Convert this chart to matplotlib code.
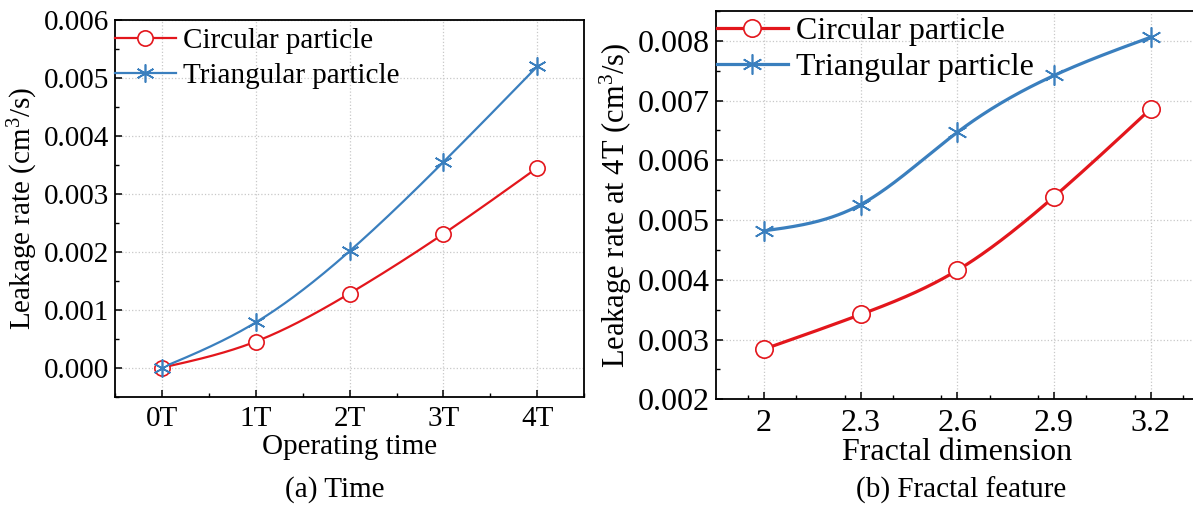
import numpy as np
import matplotlib
matplotlib.use("Agg")
import matplotlib.pyplot as plt
from matplotlib.ticker import MultipleLocator, FixedLocator, FormatStrFormatter

plt.rcParams['font.family'] = ['Liberation Serif', 'DejaVu Serif']
plt.rcParams['mathtext.fontset'] = 'custom'
plt.rcParams['mathtext.rm'] = 'Liberation Serif'
plt.rcParams['mathtext.it'] = 'Liberation Serif:italic'

# --- datos (a) ---
time_labels = ['0T', '1T', '2T', '3T', '4T']
time_x = [0, 1, 2, 3, 4]
time_circ = [0.0, 0.00045, 0.00128, 0.00231, 0.00345]
time_tri = [0.0, 0.00078, 0.00201, 0.00355, 0.00520]

# --- datos (b) ---
fractal_x = [2.0, 2.3, 2.6, 2.9, 3.2]
fractal_labels = ['2', '2.3', '2.6', '2.9', '3.2']
fractal_circ = [0.00284, 0.00342, 0.00416, 0.00539, 0.00686]
fractal_tri = [0.00482, 0.00526, 0.00647, 0.00742, 0.00806]

RED = '#e3161c'
BLUE = '#3a7fbe'


def spline(x, y, n=200):
    """Spline cubica natural solo para dibujar la curva suave entre puntos."""
    x = np.asarray(x, float)
    y = np.asarray(y, float)
    m = len(x)
    h = np.diff(x)
    A = np.zeros((m, m))
    b = np.zeros(m)
    A[0, 0] = A[-1, -1] = 1
    for i in range(1, m - 1):
        A[i, i - 1] = h[i - 1]
        A[i, i] = 2 * (h[i - 1] + h[i])
        A[i, i + 1] = h[i]
        b[i] = 6 * ((y[i + 1] - y[i]) / h[i] - (y[i] - y[i - 1]) / h[i - 1])
    M = np.linalg.solve(A, b)
    xs = np.linspace(x[0], x[-1], n)
    idx = np.clip(np.searchsorted(x, xs) - 1, 0, m - 2)
    x0, x1 = x[idx], x[idx + 1]
    hh = x1 - x0
    ys = (M[idx] * (x1 - xs) ** 3 / (6 * hh) + M[idx + 1] * (xs - x0) ** 3 / (6 * hh)
          + (y[idx] / hh - M[idx] * hh / 6) * (x1 - xs)
          + (y[idx + 1] / hh - M[idx + 1] * hh / 6) * (xs - x0))
    return xs, ys


def draw_series(ax, x, y, color, marker, lw, ms, label):
    xs, ys = spline(x, y)
    ax.plot(xs, ys, color=color, lw=lw, zorder=3)
    mk = 'o' if marker == 'o' else (6, 2, 0)
    size = ms if marker == 'o' else ms + 2
    ax.plot(x, y, marker=mk, ls='none', ms=size, mfc='white', mec=color, mew=1.2, zorder=4)
    # handle para la leyenda
    ax.plot([], [], color=color, lw=lw, marker=mk, ms=size, mfc='white', mec=color,
            mew=1.2, label=label)


def style_axes(ax, fs):
    for s in ax.spines.values():
        s.set_linewidth(1.3)
    ax.tick_params(which='both', direction='in', top=False, right=False, labelsize=fs)
    ax.tick_params(which='major', length=5, width=1.1)
    ax.tick_params(which='minor', length=3, width=1.0)
    ax.tick_params(axis='y', pad=4)
    ax.tick_params(axis='x', pad=7)
    ax.grid(True, which='major', color='#c8c8c8', ls=':', lw=0.9, zorder=0)


fig = plt.figure(figsize=(11.93, 5.05), dpi=100)

# (a) tiempo
FS1 = 21
ax1 = fig.add_axes([0.0962, 0.2145, 0.3936, 0.746])
draw_series(ax1, time_x, time_circ, RED, 'o', 1.6, 11, 'Circular particle')
draw_series(ax1, time_x, time_tri, BLUE, '*', 1.6, 11, 'Triangular particle')
ax1.set_xlim(-0.5, 4.5)
ax1.set_ylim(-0.0005, 0.006)
ax1.set_xticks(time_x)
ax1.set_xticklabels(time_labels)
ax1.xaxis.set_minor_locator(MultipleLocator(0.5))
ax1.yaxis.set_major_locator(MultipleLocator(0.001))
ax1.yaxis.set_minor_locator(MultipleLocator(0.0005))
ax1.yaxis.set_major_formatter(FormatStrFormatter('%.3f'))
style_axes(ax1, FS1)
ax1.set_xlabel('Operating time', fontsize=FS1, labelpad=1)
ax1.set_ylabel('Leakage rate (cm$^3$/s)', fontsize=FS1, labelpad=3)
ax1.legend(loc='upper left', bbox_to_anchor=(0.0, 0.98), frameon=False, fontsize=FS1,
           handlelength=2.1, borderaxespad=0.0, borderpad=0.0, handletextpad=0.25,
           labelspacing=0.3)

# (b) dimension fractal
FS2 = 23
ax2 = fig.add_axes([0.6000, 0.2093, 0.405, 0.769])
draw_series(ax2, fractal_x, fractal_circ, RED, 'o', 2.3, 12.5, 'Circular particle')
draw_series(ax2, fractal_x, fractal_tri, BLUE, '*', 2.3, 12.5, 'Triangular particle')
ax2.set_xlim(1.85, 3.35)
ax2.set_ylim(0.002, 0.0085)
ax2.xaxis.set_major_locator(FixedLocator(fractal_x))
ax2.set_xticklabels(fractal_labels)
ax2.xaxis.set_minor_locator(MultipleLocator(0.15))
ax2.yaxis.set_major_locator(MultipleLocator(0.001))
ax2.yaxis.set_minor_locator(MultipleLocator(0.0005))
ax2.yaxis.set_major_formatter(FormatStrFormatter('%.3f'))
style_axes(ax2, FS2)
ax2.set_xlabel('Fractal dimension', fontsize=FS2, labelpad=0)
ax2.set_ylabel('Leakage rate at 4T (cm$^3$/s)', fontsize=22, labelpad=3)
ax2.legend(loc='upper left', bbox_to_anchor=(0.003, 0.985), frameon=False, fontsize=FS2,
           handlelength=2.2, borderaxespad=0.0, borderpad=0.0, handletextpad=0.25,
           labelspacing=0.2)

fig.text(335 / 1193, 1 - 490 / 505, '(a) Time', ha='center', va='center', fontsize=21)
fig.text(961 / 1193, 1 - 490 / 505, '(b) Fractal feature', ha='center', va='center', fontsize=21)

fig.savefig('out.png', dpi=100)
